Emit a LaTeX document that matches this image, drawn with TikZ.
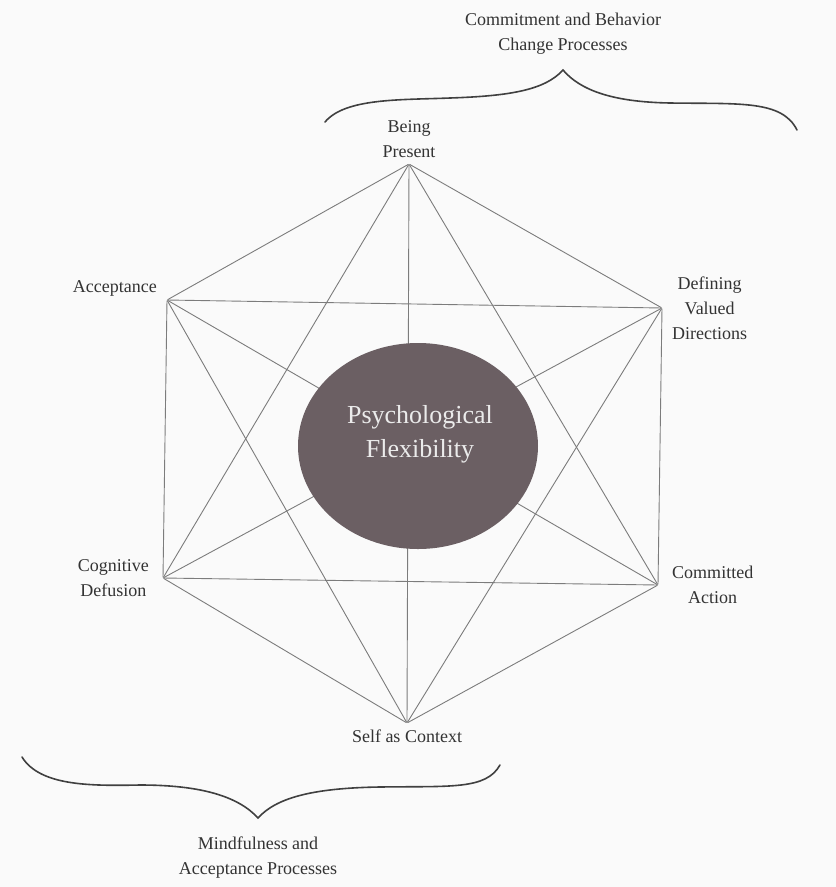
\documentclass[tikz,border=0pt]{standalone}
\usepackage{fontspec}
\setmainfont{Liberation Serif}
\usetikzlibrary{shapes.geometric}

\definecolor{inkline}{HTML}{7C7C7C}
\definecolor{blobfill}{HTML}{6B5F63}

\begin{document}
\begin{tikzpicture}[x=1pt,y=-1pt,
  vertex/.style={circle,inner sep=0pt,minimum size=1pt},
  lbl/.style={align=center,font=\fontsize{18}{25}\selectfont,text=black!80},
  link/.style={draw=inkline,line width=0.9pt},
  brace/.style={draw=black!75,line width=1.6pt,line cap=round}]

\fill[black!2] (0,0) rectangle (836,887);
\useasboundingbox (0,0) rectangle (836,887);

% define the six processes
  \node[vertex, label={[lbl,label distance=2pt]above:{Being\\Present}}]          (bp) at (409,164) {};
  \node[vertex, label={[lbl,label distance=6pt]175:{Acceptance}}]                  (ac) at (167,300) {};
  \node[vertex, label={[lbl,label distance=6pt]right:{Defining\\Valued\\Directions}}] (dv) at (662,308) {};
  \node[vertex, label={[lbl,label distance=10pt]left:{Cognitive\\Defusion}}]      (cd) at (163,578) {};
  \node[vertex, label={[lbl,label distance=10pt]right:{Committed\\Action}}]         (ca) at (658,585) {};
  \node[vertex, label={[lbl,label distance=3pt]below:{Self as Context}}]          (sc) at (407,723) {};

% define the links
  \path[link] (bp) edge (ac) edge (dv) edge (cd) edge (ca) edge (sc)
        (ac) edge (dv) edge (cd) edge (ca) edge (sc)
        (dv) edge (cd) edge (ca) edge (sc)
        (cd) edge (ca) edge (sc)
        (ca) edge (sc);

% the centre
  \node[ellipse, fill=blobfill, minimum width=240pt, minimum height=206pt] (pf) at (418,446) {};
  \node[align=center, text=white!92!black, font=\fontsize{26}{34}\selectfont]
        (pft) at (420,434) {Psychological\\Flexibility};

% the braces
  \coordinate (tl) at (325,122);
  \coordinate (tt) at (563,70);
  \coordinate (tr) at (797,130);
  \draw[brace] (tl) .. controls (345,98) and (400,100) .. (450,98)
                   .. controls (510,96) and (545,90) .. (tt)
                   .. controls (580,90) and (612,102) .. (670,103)
                   .. controls (740,104) and (782,100) .. (tr);
  \node[lbl] (cb) at (563,34) {Commitment and Behavior\\Change Processes};

  \coordinate (bl) at (22,757);
  \coordinate (bt) at (258,818);
  \coordinate (br) at (500,765);
  \draw[brace] (bl) .. controls (40,786) and (90,786) .. (140,785)
                   .. controls (200,785) and (238,796) .. (bt)
                   .. controls (276,798) and (312,788) .. (380,787)
                   .. controls (450,786) and (486,790) .. (br);
  \node[lbl] (ma) at (258,858) {Mindfulness and\\Acceptance Processes};

\end{tikzpicture}
\end{document}
